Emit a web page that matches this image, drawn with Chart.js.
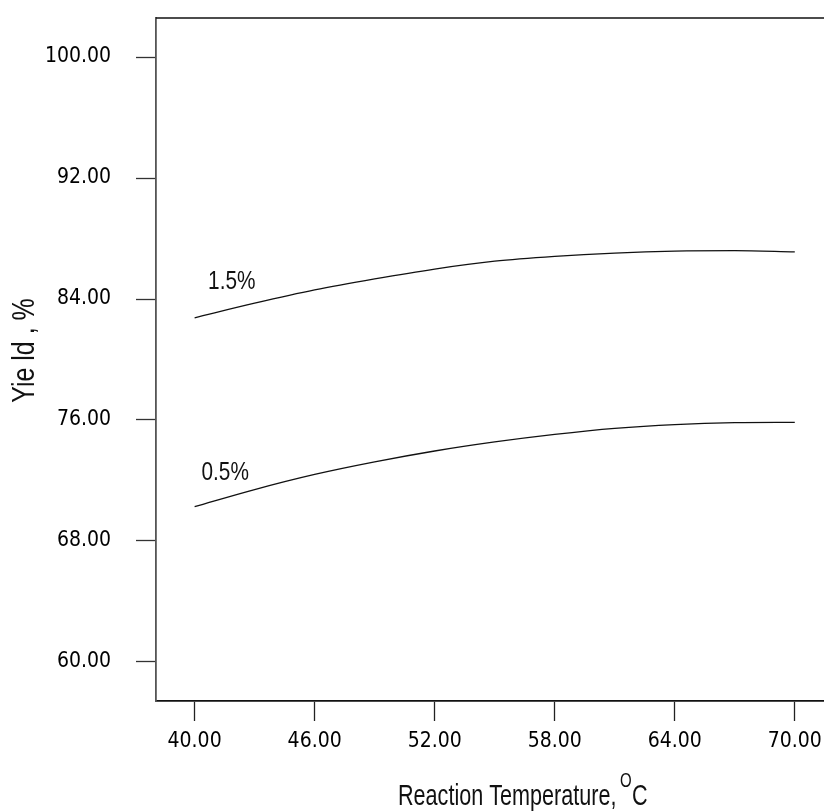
<!DOCTYPE html>
<html>
<head>
<meta charset="utf-8">
<script src="https://cdn.jsdelivr.net/npm/chart.js@4.4.0/dist/chart.umd.min.js"></script>
<style>
  body { margin: 0; background: #fff; }
</style>
</head>
<body>
<canvas id="myChart" width="824" height="812"></canvas>
<script>
// reaction temperature (C) and yield (%) for the two catalyst levels
var temps = [40, 43, 46, 49, 52, 55, 58, 61, 64, 67, 70];
var yield15 = [82.76, 83.72, 84.6, 85.33, 85.98, 86.5, 86.82, 87.04, 87.17, 87.2, 87.11];
var yield05 = [70.27, 71.4, 72.4, 73.23, 73.95, 74.55, 75.05, 75.45, 75.7, 75.82, 75.84];
var xTicks = [40, 46, 52, 58, 64, 70];
var yTicks = [60, 68, 76, 84, 92, 100];

var tickFont = "'DejaVu Sans Condensed', 'DejaVu Sans', sans-serif";
var plainFont = "'Liberation Sans', Arial, sans-serif";
var ctx = document.getElementById('myChart').getContext('2d');

// text squeezed sideways to look like a narrow face
function narrowText(c, text, x, y, size, squeeze, align) {
    c.save();
    c.translate(x, y);
    c.scale(squeeze, 1);
    c.font = size + 'px ' + plainFont;
    c.textAlign = align || 'left';
    c.fillText(text, 0, 0);
    c.restore();
}

// top frame line, curve labels and axis titles
var decorations = {
    id: 'decorations',
    afterDraw: function (chart) {
        var c = chart.ctx, a = chart.chartArea;
        var sx = chart.scales.x, sy = chart.scales.y;
        c.save();
        c.strokeStyle = '#111';
        c.lineWidth = 1.5;
        c.beginPath();
        c.moveTo(a.left, a.top);
        c.lineTo(a.right, a.top);
        c.stroke();

        c.fillStyle = '#111';
        c.textBaseline = 'middle';
        narrowText(c, '1.5%', sx.getPixelForValue(41.86), sy.getPixelForValue(85.14), 26, 0.8, 'center');
        narrowText(c, '0.5%', sx.getPixelForValue(41.53), sy.getPixelForValue(72.5), 26, 0.8, 'center');

        // x title with superscript degree mark
        c.textBaseline = 'alphabetic';
        narrowText(c, 'Reaction Temperature, ', 398, 805, 30, 0.72);
        narrowText(c, 'O', 620, 787, 20, 0.75);
        narrowText(c, 'C', 632, 805, 30, 0.72);

        // y title
        c.save();
        c.translate(25.5, 350.5);
        c.rotate(-Math.PI / 2);
        c.textBaseline = 'middle';
        narrowText(c, 'Yie ld , %', 0, 0, 32, 0.78, 'center');
        c.restore();
        c.restore();
    }
};

function noPadding(s) {
    s.paddingTop = 0;
    s.paddingBottom = 0;
    s.paddingLeft = 0;
    s.paddingRight = 0;
}

var chart = new Chart(ctx, {
    type: 'line',
    data: {
        datasets: [
            {
                label: '1.5%',
                data: temps.map(function (t, i) { return { x: t, y: yield15[i] }; }),
                borderColor: '#111',
                borderWidth: 1.3,
                pointRadius: 0,
                cubicInterpolationMode: 'monotone'
            },
            {
                label: '0.5%',
                data: temps.map(function (t, i) { return { x: t, y: yield05[i] }; }),
                borderColor: '#111',
                borderWidth: 1.3,
                pointRadius: 0,
                cubicInterpolationMode: 'monotone'
            }
        ]
    },
    options: {
        responsive: false,
        animation: false,
        layout: { padding: { left: 0, top: 18, right: 0, bottom: 0 } },
        plugins: {
            legend: { display: false },
            tooltip: { enabled: false }
        },
        scales: {
            x: {
                type: 'linear',
                min: 38.07,
                max: 71.46,
                afterBuildTicks: function (s) { s.ticks = xTicks.map(function (v) { return { value: v }; }); },
                afterFit: function (s) { s.height = 111; noPadding(s); },
                grid: { drawOnChartArea: false, drawTicks: true, tickLength: 20, tickColor: '#222', tickWidth: 1.3 },
                border: { display: true, color: '#111', width: 1.8 },
                ticks: {
                    color: '#000',
                    font: { family: tickFont, size: 21 },
                    padding: 8,
                    maxRotation: 0,
                    autoSkip: false,
                    callback: function (v) { return v.toFixed(2); }
                }
            },
            y: {
                type: 'linear',
                min: 57.42,
                max: 102.58,
                afterBuildTicks: function (s) { s.ticks = yTicks.map(function (v) { return { value: v }; }); },
                afterFit: function (s) { s.width = 156; noPadding(s); },
                grid: { drawOnChartArea: false, drawTicks: true, tickLength: 20, tickColor: '#333', tickWidth: 1.3 },
                border: { display: true, color: '#555', width: 1.8 },
                ticks: {
                    color: '#000',
                    font: { family: tickFont, size: 21 },
                    padding: 25,
                    autoSkip: false,
                    callback: function (v) { return v.toFixed(2); }
                }
            }
        }
    },
    plugins: [decorations]
});
</script>
</body>
</html>
